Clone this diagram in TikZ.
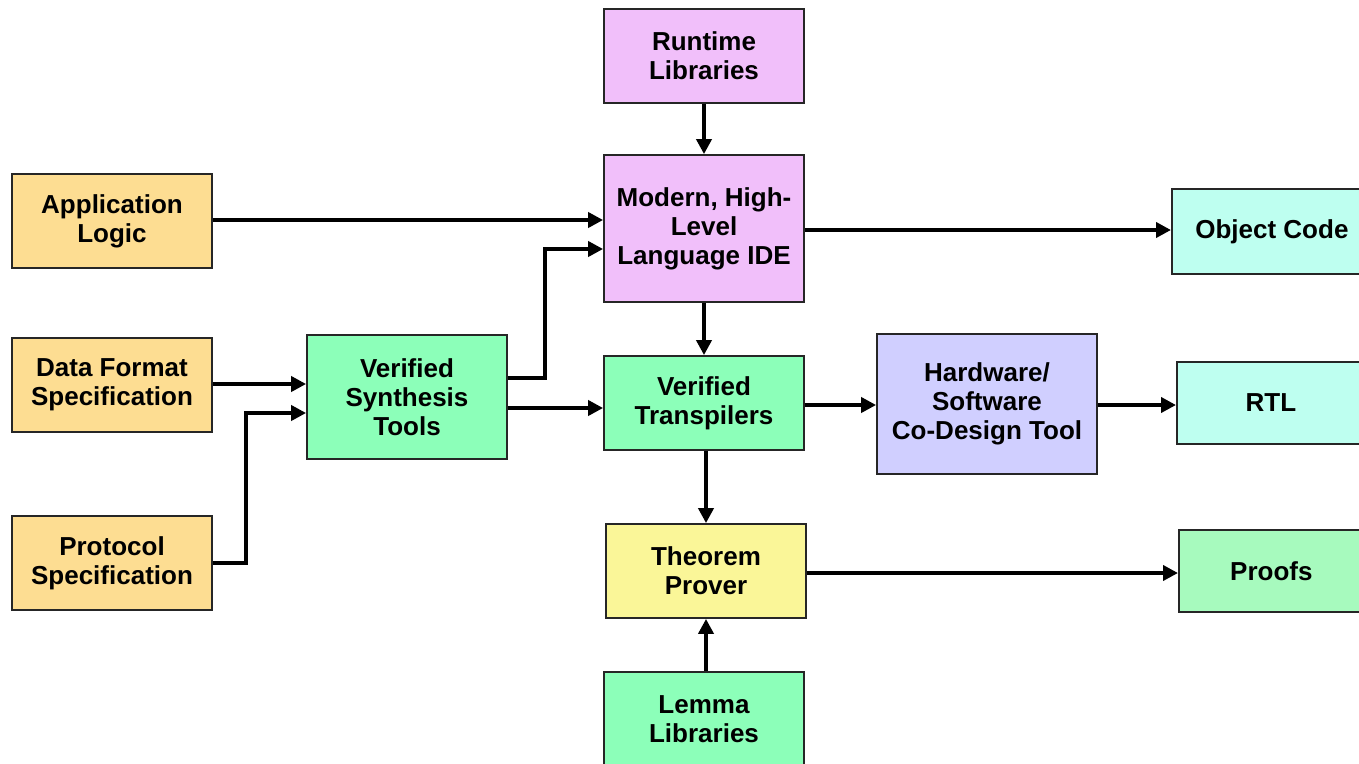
\documentclass[tikz,border=0pt]{standalone}
\usepackage{fontspec}
\setmainfont{Liberation Sans}
\usetikzlibrary{arrows.meta}
\definecolor{cOrange}{RGB}{253,221,146}
\definecolor{cPink}{RGB}{241,191,250}
\definecolor{cCyan}{RGB}{190,255,240}
\definecolor{cGreen}{RGB}{140,255,185}
\definecolor{cYellow}{RGB}{250,246,152}
\definecolor{cLav}{RGB}{208,207,255}
\definecolor{cProof}{RGB}{167,250,190}
\begin{document}
\begin{tikzpicture}[x=1pt,y=-1pt,
  box/.style={draw=black!85,line width=1.8pt,inner sep=0pt,align=center,
    font=\fontsize{26}{29}\selectfont\bfseries},
  conn/.style={line width=4pt,-{Triangle[length=15pt,width=15pt]},line join=miter}]
\useasboundingbox (0,0) rectangle (1359,763);
% inputs
\node[box,fill=cOrange,minimum width=200pt,minimum height=94pt] (app) at (112,221) {Application\\Logic};
\node[box,fill=cOrange,minimum width=200pt,minimum height=94pt] (data) at (112,385) {Data Format\\Specification};
\node[box,fill=cOrange,minimum width=200pt,minimum height=94pt] (proto) at (112,563) {Protocol\\Specification};
% tools
\node[box,fill=cGreen,minimum width=200pt,minimum height=124pt] (synth) at (407,397) {Verified\\Synthesis\\Tools};
\node[box,fill=cPink,minimum width=200pt,minimum height=94pt] (rt) at (704,56) {Runtime\\Libraries};
\node[box,fill=cPink,minimum width=200pt,minimum height=147pt] (ide) at (704,228.5) {Modern, High-\\Level\\Language IDE};
\node[box,fill=cGreen,minimum width=200pt,minimum height=94pt] (trans) at (704,403) {Verified\\Transpilers};
\node[box,fill=cYellow,minimum width=200pt,minimum height=94pt] (thm) at (706,571) {Theorem\\Prover};
\node[box,fill=cGreen,minimum width=200pt,minimum height=94pt] (lemma) at (704,719) {Lemma\\Libraries};
\node[box,fill=cLav,minimum width=220pt,minimum height=140pt] (hw) at (987,404) {Hardware/\\Software\\Co-Design Tool};
% outputs
\node[box,fill=cCyan,minimum width=200pt,minimum height=85pt,anchor=west] (obj) at (1171,231.5) {Object Code};
\node[box,fill=cCyan,minimum width=200pt,minimum height=82pt,anchor=west] (rtl) at (1176,403) {\hspace*{-12pt}RTL};
\node[box,fill=cProof,minimum width=200pt,minimum height=82pt,anchor=west] (proofs) at (1178,571) {\hspace*{-15pt}Proofs};
% connectors
\draw[conn] (rt) -- (ide);
\draw[conn] (app.east |- 0,220) -- (ide.west |- 0,220);
\draw[conn] (synth.east |- 0,378) -| (545,249) -- (ide.west |- 0,249);
\draw[conn] (data.east |- 0,384) -- (synth.west |- 0,384);
\draw[conn] (proto.east) -| (246,413) -- (synth.west |- 0,413);
\draw[conn] (synth.east |- 0,408) -- (trans.west |- 0,408);
\draw[conn] (ide) -- (trans);
\draw[conn] (ide.east |- 0,230) -- (obj.west |- 0,230);
\draw[conn] (trans.east |- 0,405) -- (hw.west |- 0,405);
\draw[conn] (hw.east |- 0,405) -- (rtl.west |- 0,405);
\draw[conn] (trans.south -| 706,0) -- (thm.north);
\draw[conn] (thm.east |- 0,573) -- (proofs.west |- 0,573);
\draw[conn] (lemma.north -| 706,0) -- (thm.south);
\end{tikzpicture}
\end{document}
